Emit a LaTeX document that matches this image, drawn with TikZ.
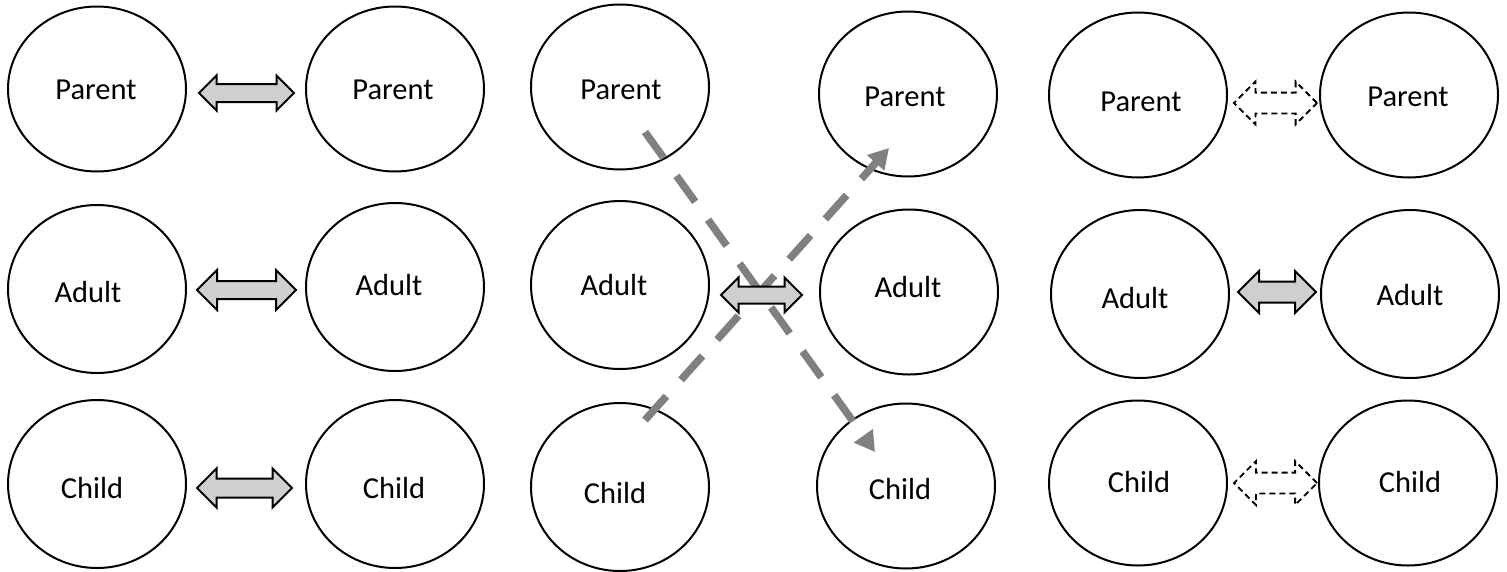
\documentclass[tikz,border=0pt]{standalone}
\usepackage{fontspec}
\setmainfont{Carlito}
\usetikzlibrary{shapes.geometric,shapes.arrows,arrows.meta}
\begin{document}
\begin{tikzpicture}[x=1pt,y=-1pt,
  ell/.style={ellipse,draw,line width=2pt,minimum width=178pt,minimum height=165pt,inner sep=0pt},
  lbl/.style={anchor=base,inner sep=0pt,font=\fontsize{30.5}{36}\selectfont},
  blk/.style={double arrow,draw,line width=2pt,fill=black!19,inner xsep=0pt,double arrow tip angle=90},
  dblk/.style={double arrow,draw,line width=1.8pt,dash pattern=on 6pt off 4pt,fill=white,inner xsep=0pt,double arrow tip angle=90},
  gdash/.style={draw=black!50,line width=7.5pt,dash pattern=on 32pt off 22pt,-{Triangle[length=20pt,width=22pt]}}]
\useasboundingbox (0,0) rectangle (1507,571);
% column 1
\node[ell] (p1) at (97,89) {};
\node[ell,minimum height=168pt] (a1) at (97,289) {};
\node[ell,minimum height=168pt] (c1) at (97,484) {};
\node[lbl] (tp1) at (96,99) {Parent};
\node[lbl] (ta1) at (88,302) {Adult};
\node[lbl] (tc1) at (92,498) {Child};
% column 2
\node[ell] (p2) at (395,89) {};
\node[ell,minimum height=168pt] (a2) at (395,287) {};
\node[ell,minimum height=168pt] (c2) at (395,484) {};
\node[lbl] (tp2) at (393,99) {Parent};
\node[lbl] (ta2) at (389,295) {Adult};
\node[lbl] (tc2) at (394,498) {Child};
% column 3
\node[ell] (p3) at (620,87) {};
\node[ell,minimum height=168pt] (a3) at (620,285) {};
\node[ell,minimum height=168pt] (c3) at (620,487) {};
\node[lbl] (tp3) at (621,99) {Parent};
\node[lbl] (ta3) at (614,295) {Adult};
\node[lbl] (tc3) at (615,503) {Child};
% column 4
\node[ell] (p4) at (908,94) {};
\node[ell] (a4) at (909,292) {};
\node[ell] (c4) at (906,486) {};
\node[lbl] (tp4) at (905,106) {Parent};
\node[lbl] (ta4) at (908,297) {Adult};
\node[lbl] (tc4) at (900,499) {Child};
% column 5
\node[ell] (p5) at (1138,95) {};
\node[ell,minimum height=168pt] (a5) at (1140,294) {};
\node[ell] (c5) at (1138,483) {};
\node[lbl] (tp5) at (1141,111) {Parent};
\node[lbl] (ta5) at (1135,308) {Adult};
\node[lbl] (tc5) at (1139,492) {Child};
% column 6
\node[ell] (p6) at (1409,95) {};
\node[ell,minimum height=168pt] (a6) at (1410,294) {};
\node[ell] (c6) at (1408,483) {};
\node[lbl] (tp6) at (1408,106) {Parent};
\node[lbl] (ta6) at (1410,305) {Adult};
\node[lbl] (tc6) at (1410,492) {Child};
% dashed crossing arrows
\coordinate (s1) at (645,132);
\coordinate (t1) at (875,452);
\coordinate (s2) at (645,420);
\coordinate (t2) at (889,148);
\draw[gdash] (s1) -- (t1);
\draw[gdash] (s2) -- (t2);
% block double arrows
\node[blk,minimum height=95pt,inner ysep=8pt,double arrow head extend=8.5pt] (d1) at (246.5,93) {};
\node[blk,minimum height=99pt,inner ysep=8pt,double arrow head extend=11pt] (d2) at (246.5,290) {};
\node[blk,minimum height=95pt,inner ysep=8.5pt,double arrow head extend=10pt] (d3) at (244.5,488) {};
\node[blk,minimum height=81pt,inner ysep=7.5pt,double arrow head extend=9pt] (dm) at (761.5,295) {};
\node[dblk,minimum height=83pt,inner ysep=9.5pt,double arrow head extend=11pt] (r1) at (1275.5,103) {};
\node[blk,minimum height=78pt,inner ysep=9.5pt,double arrow head extend=10.5pt] (r2) at (1277,292) {};
\node[dblk,minimum height=83pt,inner ysep=9.5pt,double arrow head extend=11.5pt] (r3) at (1275.5,483) {};
\end{tikzpicture}
\end{document}
